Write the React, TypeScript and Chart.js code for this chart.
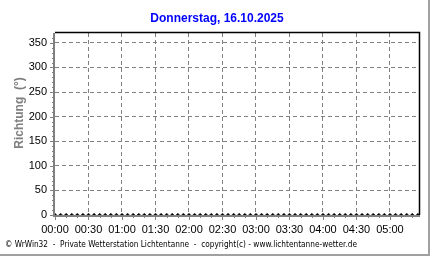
import React, { useEffect, useRef } from "react";
import { Chart, registerables } from "chart.js";

Chart.register(...registerables);

const TITLE = "Donnerstag, 16.10.2025";
const Y_TITLE = "Richtung  (°)";
const FOOTER = "© WrWin32  -  Private Wetterstation Lichtentanne  -  copyright(c) - www.lichtentanne-wetter.de";

// minutes since 00:00, every 5 minutes up to 05:25
const times: number[] = [
  0, 5, 10, 15, 20, 25, 30, 35, 40, 45, 50, 55,
  60, 65, 70, 75, 80, 85, 90, 95, 100, 105, 110, 115,
  120, 125, 130, 135, 140, 145, 150, 155, 160, 165, 170, 175,
  180, 185, 190, 195, 200, 205, 210, 215, 220, 225, 230, 235,
  240, 245, 250, 255, 260, 265, 270, 275, 280, 285, 290, 295,
  300, 305, 310, 315, 320, 325,
];
const direction: number[] = [
  0, 0, 0, 0, 0, 0, 0, 0, 0, 0, 0, 0,
  0, 0, 0, 0, 0, 0, 0, 0, 0, 0, 0, 0,
  0, 0, 0, 0, 0, 0, 0, 0, 0, 0, 0, 0,
  0, 0, 0, 0, 0, 0, 0, 0, 0, 0, 0, 0,
  0, 0, 0, 0, 0, 0, 0, 0, 0, 0, 0, 0,
  0, 0, 0, 0, 0, 0,
];
const yTicks: number[] = [0, 50, 100, 150, 200, 250, 300, 350];
const xTicks: number[] = [0, 30, 60, 90, 120, 150, 180, 210, 240, 270, 300];

const X_MAX = 326;
const Y_MAX = 370;

function fmt(m: number): string {
  const h = Math.floor(m / 60);
  const mm = m % 60;
  return String(h).padStart(2, "0") + ":" + String(mm).padStart(2, "0");
}

const decor = {
  id: "decor",
  afterDraw(chart: any) {
    const ctx = chart.ctx;
    const a = chart.chartArea;
    const xs = chart.scales.x;
    const ys = chart.scales.y;
    ctx.save();
    // title
    ctx.fillStyle = "#0000ff";
    ctx.font = "bold 12px Arial, 'Liberation Sans', sans-serif";
    ctx.textAlign = "center";
    ctx.textBaseline = "middle";
    ctx.fillText(TITLE, 217, 19);
    // y title
    ctx.save();
    ctx.translate(20, 113);
    ctx.rotate(-Math.PI / 2);
    ctx.fillStyle = "#808080";
    ctx.font = "bold 12px Arial, 'Liberation Sans', sans-serif";
    ctx.fillText(Y_TITLE, 0, 0);
    ctx.restore();
    // footer
    ctx.fillStyle = "#000000";
    ctx.font = "8px 'DejaVu Sans', sans-serif";
    ctx.textAlign = "left";
    ctx.fillText(FOOTER, 5, 245, 352);
    // top & right black frame
    ctx.strokeStyle = "#000000";
    ctx.lineWidth = 1.5;
    ctx.beginPath();
    ctx.moveTo(a.left, a.top - 0.5);
    ctx.lineTo(a.right + 0.5, a.top - 0.5);
    ctx.lineTo(a.right + 0.5, a.bottom);
    ctx.stroke();
    // minor ticks
    ctx.strokeStyle = "#808080";
    ctx.lineWidth = 1;
    ctx.beginPath();
    for (let v = 0; v <= 360; v += 10) {
      const y = Math.round(ys.getPixelForValue(v)) + 0.5;
      const len = v % 50 === 0 ? 4 : 2;
      ctx.moveTo(a.left - 1 - len, y);
      ctx.lineTo(a.left - 1, y);
    }
    for (let m = 0; m <= 320; m += 10) {
      const x = Math.round(xs.getPixelForValue(m)) + 0.5;
      const len = m % 30 === 0 ? 4 : 2;
      ctx.moveTo(x, a.bottom + 1);
      ctx.lineTo(x, a.bottom + 1 + len);
    }
    ctx.stroke();
    // left and bottom gray axes
    ctx.fillStyle = "#808080";
    ctx.fillRect(a.left - 2, a.top, 2, a.bottom - a.top + 2);
    ctx.fillRect(a.left - 2, a.bottom, a.right - a.left + 3, 2);
    // outer border
    ctx.fillStyle = "#a0a0a0";
    ctx.fillRect(428, 0, 2, 256);
    ctx.fillRect(0, 254, 430, 2);
    ctx.restore();
  },
};

const tickFont = { family: "Arial, 'Liberation Sans', sans-serif", size: 11 };

export default function App() {
  const ref = useRef<HTMLCanvasElement | null>(null);
  useEffect(() => {
    if (!ref.current) return;
    const chart = new Chart(ref.current, {
      type: "scatter",
      data: {
        datasets: [
          {
            data: times.map((t, i) => ({ x: t, y: direction[i] })),
            pointStyle: "rectRot",
            pointRadius: 1.8,
            backgroundColor: "#000000",
            borderColor: "#000000",
            borderWidth: 0.5,
            showLine: false,
          },
        ],
      },
      options: {
        responsive: false,
        animation: false,
        layout: { padding: { left: 0, top: 33, right: 13, bottom: 26 } },
        plugins: { legend: { display: false }, title: { display: false }, tooltip: { enabled: false } },
        scales: {
          x: {
            type: "linear",
            min: 0,
            max: X_MAX,
            afterBuildTicks: (s: any) => {
              s.ticks = xTicks.map((v) => ({ value: v }));
            },
            afterFit: (s: any) => {
              s.height = 20;
            },
            border: { display: false, dash: [4, 3] },
            grid: {
              color: (c: any) => (c.tick && c.tick.value === 0 ? "rgba(0,0,0,0)" : "#808080"),
              lineWidth: 1,
              drawTicks: false,
            },
            ticks: {
              color: "#000000",
              font: tickFont,
              padding: 8,
              maxRotation: 0,
              autoSkip: false,
              callback: (v: any) => fmt(Number(v)),
            },
          },
          y: {
            type: "linear",
            min: 0,
            max: Y_MAX,
            afterBuildTicks: (s: any) => {
              s.ticks = yTicks.map((v) => ({ value: v }));
            },
            afterFit: (s: any) => {
              s.width = 55;
            },
            border: { display: false, dash: [4, 3] },
            grid: {
              color: (c: any) => (c.tick && c.tick.value === 0 ? "rgba(0,0,0,0)" : "#808080"),
              lineWidth: 1,
              drawTicks: false,
            },
            ticks: {
              color: "#000000",
              font: tickFont,
              padding: 8,
              autoSkip: false,
            },
          },
        },
      },
      plugins: [decor],
    } as any);
    return () => chart.destroy();
  }, []);
  return (
    <div style={{ position: "fixed", left: 0, top: 0, width: 432, height: 261, background: "#ffffff" }}>
      <canvas ref={ref} width={432} height={261} style={{ display: "block" }} />
    </div>
  );
}
